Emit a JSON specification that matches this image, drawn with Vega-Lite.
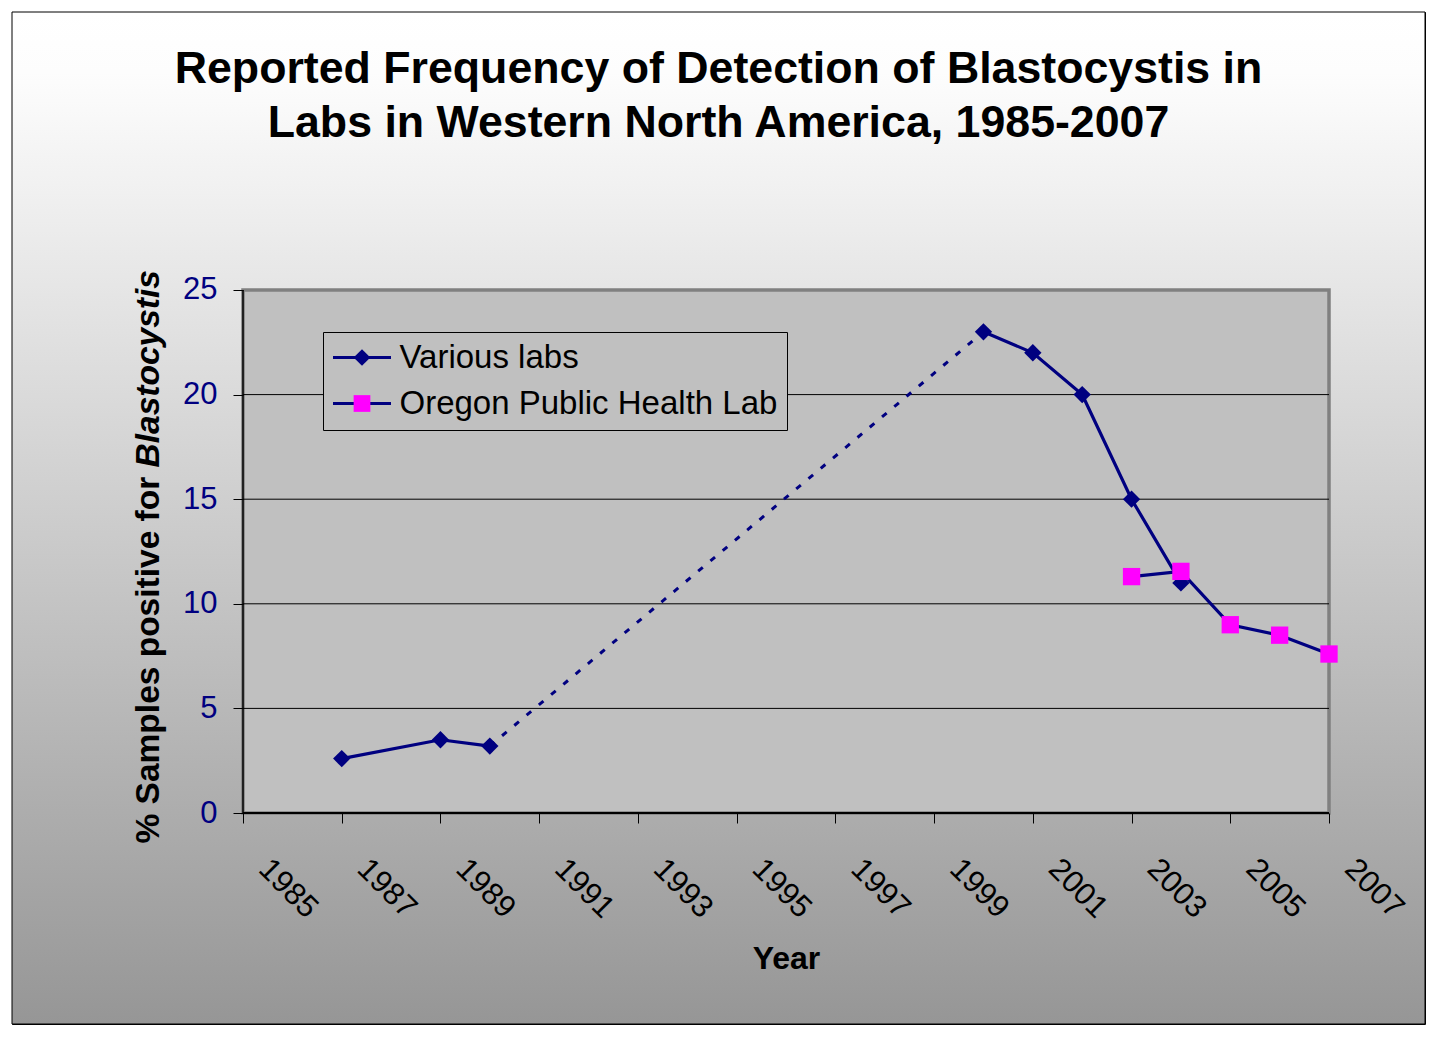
{
  "$schema": "https://vega.github.io/schema/vega-lite/v6.json",
  "width": 1413,
  "height": 1012,
  "autosize": {"type": "none"},
  "padding": {"left": 12, "top": 12, "right": 11, "bottom": 19},
  "background": "#ffffff",
  "config": {
    "font": "Liberation Sans",
    "view": {"stroke": "#000000", "strokeWidth": 1}
  },
  "title": {
    "text": ["Reported Frequency of Detection of Blastocystis in", "Labs in Western North America, 1985-2007"],
    "font": "Liberation Sans",
    "fontSize": 44.7,
    "fontWeight": "bold",
    "color": "#000000",
    "lineHeight": 54,
    "anchor": "middle",
    "frame": "group",
    "offset": -135
  },
  "datasets": {
    "obs": [
      {"series": "Various labs", "segment": "Various labs 1987-1990", "year": 1987, "value": 2.6},
      {"series": "Various labs", "segment": "Various labs 1987-1990", "year": 1989, "value": 3.5},
      {"series": "Various labs", "segment": "Various labs 1987-1990", "year": 1990, "value": 3.2},
      {"series": "Various labs", "segment": "Various labs 2000-2004", "year": 2000, "value": 23},
      {"series": "Various labs", "segment": "Various labs 2000-2004", "year": 2001, "value": 22},
      {"series": "Various labs", "segment": "Various labs 2000-2004", "year": 2002, "value": 20},
      {"series": "Various labs", "segment": "Various labs 2000-2004", "year": 2003, "value": 15},
      {"series": "Various labs", "segment": "Various labs 2000-2004", "year": 2004, "value": 11},
      {"series": "Oregon Public Health Lab", "segment": "Oregon Public Health Lab", "year": 2003, "value": 11.3},
      {"series": "Oregon Public Health Lab", "segment": "Oregon Public Health Lab", "year": 2004, "value": 11.55},
      {"series": "Oregon Public Health Lab", "segment": "Oregon Public Health Lab", "year": 2005, "value": 9.0},
      {"series": "Oregon Public Health Lab", "segment": "Oregon Public Health Lab", "year": 2006, "value": 8.5},
      {"series": "Oregon Public Health Lab", "segment": "Oregon Public Health Lab", "year": 2007, "value": 7.6}
    ],
    "gap": [
      {"series": "Various labs", "year": 1990, "value": 3.2},
      {"series": "Various labs", "year": 2000, "value": 23}
    ]
  },
  "layer": [
    {
      "data": {"values": [{}]},
      "mark": {"type": "rect", "stroke": "#000000", "strokeWidth": 1,
        "fill": {"gradient": "linear", "x1": 0, "y1": 0, "x2": 0, "y2": 1,
          "stops": [{"offset": 0, "color": "#ffffff"}, {"offset": 0.06, "color": "#fdfdfd"}, {"offset": 1, "color": "#969696"}]}},
      "encoding": {
        "x": {"datum": 1980.3204, "type": "quantitative", "scale": {"domain": [1980.3204, 2008.9447], "nice": false, "zero": false}, "axis": null},
        "x2": {"datum": 2008.9447},
        "y": {"datum": -10.086, "type": "quantitative", "scale": {"domain": [-10.086, 38.2887], "nice": false, "zero": false}, "axis": null},
        "y2": {"datum": 38.2887}
      }
    },
    {
      "data": {"values": [{}]},
      "mark": {"type": "rect", "fill": "#C0C0C0", "stroke": "#808080", "strokeWidth": 3.5},
      "encoding": {
        "x": {"datum": 1985, "type": "quantitative", "scale": {"domain": [1980.3204, 2008.9447], "nice": false, "zero": false}, "axis": null},
        "x2": {"datum": 2007},
        "y": {"datum": 0, "type": "quantitative", "scale": {"domain": [-10.086, 38.2887], "nice": false, "zero": false}, "axis": null},
        "y2": {"datum": 25}
      }
    },
    {
      "data": {"values": [{}]},
      "mark": {"type": "rule", "color": "#000000", "strokeWidth": 1},
      "encoding": {
        "x": {"datum": 1985, "type": "quantitative", "scale": {"domain": [1980.3204, 2008.9447], "nice": false, "zero": false}, "axis": null},
        "x2": {"datum": 2007},
        "y": {"datum": 5, "type": "quantitative", "scale": {"domain": [-10.086, 38.2887], "nice": false, "zero": false}, "axis": null}
      }
    },
    {
      "data": {"values": [{}]},
      "mark": {"type": "rule", "color": "#000000", "strokeWidth": 1},
      "encoding": {
        "x": {"datum": 1985, "type": "quantitative", "scale": {"domain": [1980.3204, 2008.9447], "nice": false, "zero": false}, "axis": null},
        "x2": {"datum": 2007},
        "y": {"datum": 10, "type": "quantitative", "scale": {"domain": [-10.086, 38.2887], "nice": false, "zero": false}, "axis": null}
      }
    },
    {
      "data": {"values": [{}]},
      "mark": {"type": "rule", "color": "#000000", "strokeWidth": 1},
      "encoding": {
        "x": {"datum": 1985, "type": "quantitative", "scale": {"domain": [1980.3204, 2008.9447], "nice": false, "zero": false}, "axis": null},
        "x2": {"datum": 2007},
        "y": {"datum": 15, "type": "quantitative", "scale": {"domain": [-10.086, 38.2887], "nice": false, "zero": false}, "axis": null}
      }
    },
    {
      "data": {"values": [{}]},
      "mark": {"type": "rule", "color": "#000000", "strokeWidth": 1},
      "encoding": {
        "x": {"datum": 1985, "type": "quantitative", "scale": {"domain": [1980.3204, 2008.9447], "nice": false, "zero": false}, "axis": null},
        "x2": {"datum": 2007},
        "y": {"datum": 20, "type": "quantitative", "scale": {"domain": [-10.086, 38.2887], "nice": false, "zero": false}, "axis": null}
      }
    },
    {
      "data": {"values": [{}]},
      "mark": {"type": "rule", "color": "#000000", "strokeWidth": 1.5},
      "encoding": {
        "x": {"datum": 1985, "type": "quantitative", "scale": {"domain": [1980.3204, 2008.9447], "nice": false, "zero": false}, "axis": null},
        "y": {"datum": 0, "type": "quantitative", "scale": {"domain": [-10.086, 38.2887], "nice": false, "zero": false}, "axis": null},
        "y2": {"datum": 25}
      }
    },
    {
      "data": {"values": [{}]},
      "mark": {"type": "rule", "color": "#000000", "strokeWidth": 2},
      "encoding": {
        "x": {"datum": 1985, "type": "quantitative", "scale": {"domain": [1980.3204, 2008.9447], "nice": false, "zero": false}, "axis": null},
        "x2": {"datum": 2007},
        "y": {"datum": 0, "type": "quantitative", "scale": {"domain": [-10.086, 38.2887], "nice": false, "zero": false}, "axis": null}
      }
    },
    {
      "data": {"name": "gap"},
      "mark": {"type": "line", "stroke": "#000080", "strokeWidth": 3, "strokeDash": [6, 10]},
      "encoding": {
        "x": {"field": "year", "type": "quantitative", "scale": {"domain": [1980.3204, 2008.9447], "nice": false, "zero": false}, "axis": null},
        "y": {"field": "value", "type": "quantitative", "scale": {"domain": [-10.086, 38.2887], "nice": false, "zero": false}, "axis": null}
      }
    },
    {
      "data": {"name": "obs"},
      "mark": {"type": "line", "strokeWidth": 3.2},
      "encoding": {
        "x": {
          "field": "year", "type": "quantitative",
          "scale": {"domain": [1980.3204, 2008.9447], "nice": false, "zero": false},
          "axis": {
            "orient": "bottom", "offset": -211, "zindex": 1,
            "values": [1985, 1987, 1989, 1991, 1993, 1995, 1997, 1999, 2001, 2003, 2005, 2007],
            "format": "d",
            "labelAngle": 45, "labelAlign": "left", "labelBaseline": "middle",
            "labelFont": "Liberation Sans", "labelFontSize": 31, "labelColor": "#000000",
            "labelOffset": 20, "labelPadding": 41,
            "labelFlush": false, "labelOverlap": false, "labelBound": false,
            "tickSize": 10, "tickColor": "#000000", "tickWidth": 1,
            "domain": false, "grid": false,
            "title": "Year", "titleFont": "Liberation Sans", "titleFontSize": 32, "titleFontWeight": "bold", "titleColor": "#000000",
            "titleX": 774, "titleY": 145, "titleAlign": "center", "titleBaseline": "middle", "titleAngle": 0
          }
        },
        "y": {
          "field": "value", "type": "quantitative",
          "scale": {"domain": [-10.086, 38.2887], "nice": false, "zero": false},
          "axis": {
            "orient": "left", "offset": -231, "zindex": 1,
            "values": [0, 5, 10, 15, 20, 25],
            "labelFont": "Liberation Sans", "labelFontSize": 31, "labelColor": "#000080", "labelPadding": 16,
            "labelFlush": false, "labelOverlap": false,
            "tickSize": 10, "tickColor": "#000000", "tickWidth": 1,
            "domain": false, "grid": false,
            "title": "% Samples positive for", "titleFont": "Liberation Sans", "titleFontSize": 33.5, "titleFontWeight": "bold", "titleColor": "#000000",
            "titleAngle": -90, "titleAlign": "left", "titleBaseline": "middle", "titleX": -95, "titleY": 831
          }
        },
        "stroke": {
          "field": "series", "type": "nominal",
          "sort": ["Various labs", "Oregon Public Health Lab"],
          "scale": {"range": ["#000080", "#000080"]},
          "legend": {
            "title": null, "orient": "none", "legendX": 311, "legendY": 320, "direction": "vertical", "zindex": 1,
            "fillColor": "#C0C0C0", "strokeColor": "#000000",
            "padding": 9, "rowPadding": 12,
            "labelFont": "Liberation Sans", "labelFontSize": 33, "labelColor": "#000000", "labelLimit": 1000, "labelOffset": 21,
            "symbolType": "M-5.8,0L5.8,0", "symbolSize": 100, "symbolStrokeWidth": 3, "symbolOffset": 13.5
          }
        },
        "detail": {"field": "segment", "type": "nominal"}
      }
    },
    {
      "data": {"name": "obs"},
      "mark": {"type": "point", "filled": true, "size": 300, "opacity": 1, "strokeWidth": 0},
      "encoding": {
        "x": {"field": "year", "type": "quantitative", "scale": {"domain": [1980.3204, 2008.9447], "nice": false, "zero": false}, "axis": null},
        "y": {
          "field": "value", "type": "quantitative",
          "scale": {"domain": [-10.086, 38.2887], "nice": false, "zero": false},
          "axis": {
            "orient": "left", "offset": -231, "zindex": 1,
            "labels": false, "ticks": false, "domain": false, "grid": false,
            "title": "Blastocystis", "titleFont": "Liberation Sans", "titleFontSize": 33.5, "titleFontWeight": "bold", "titleFontStyle": "italic", "titleColor": "#000000",
            "titleAngle": -90, "titleAlign": "left", "titleBaseline": "middle", "titleX": -95, "titleY": 455
          }
        },
        "fill": {
          "field": "series", "type": "nominal",
          "scale": {"domain": ["Various labs", "Oregon Public Health Lab"], "range": ["#000080", "#FF00FF"]},
          "legend": {
            "title": null, "orient": "none", "legendX": 311, "legendY": 320, "direction": "vertical", "zindex": 2,
            "padding": 9, "rowPadding": 12,
            "labelFont": "Liberation Sans", "labelFontSize": 33, "labelOpacity": 0, "labelLimit": 1000, "labelOffset": 21,
            "symbolSize": 280, "symbolStrokeWidth": 0, "symbolOpacity": 1, "symbolOffset": 13.5
          }
        },
        "shape": {
          "field": "series", "type": "nominal",
          "scale": {"domain": ["Various labs", "Oregon Public Health Lab"], "range": ["diamond", "square"]},
          "legend": {
            "title": null, "orient": "none", "legendX": 311, "legendY": 320, "direction": "vertical", "zindex": 2,
            "padding": 9, "rowPadding": 12,
            "labelFont": "Liberation Sans", "labelFontSize": 33, "labelOpacity": 0, "labelLimit": 1000, "labelOffset": 21,
            "symbolSize": 280, "symbolStrokeWidth": 0, "symbolOpacity": 1, "symbolOffset": 13.5
          }
        }
      }
    }
  ],
  "resolve": {"axis": {"x": "independent", "y": "independent"}}
}
